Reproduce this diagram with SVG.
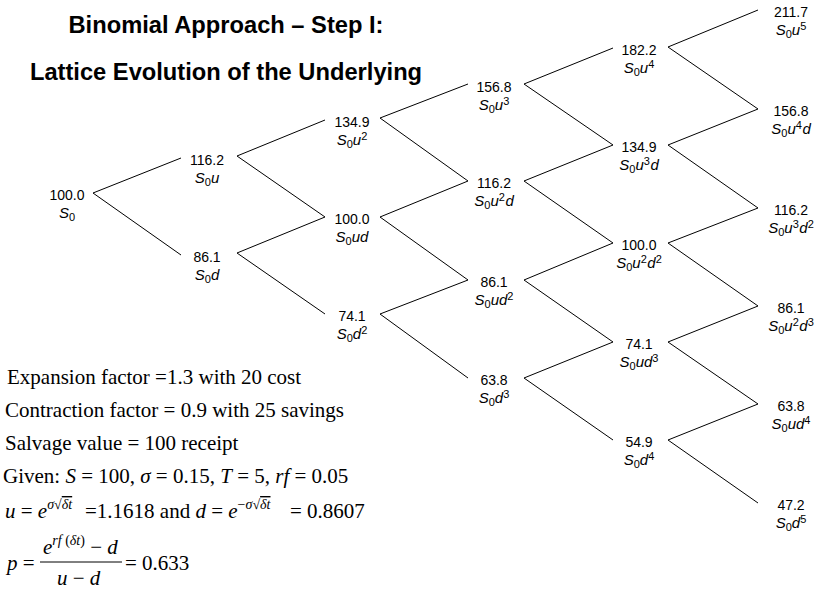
<svg xmlns="http://www.w3.org/2000/svg" width="817" height="589" viewBox="0 0 817 589">
<style>
.title{font-family:"Liberation Sans",Arial,sans-serif;font-weight:bold;font-size:23.7px;fill:#000;text-anchor:middle}
.num{font-family:"Liberation Sans",Arial,sans-serif;font-size:14px;fill:#000;text-anchor:middle}
.lab{font-family:"Liberation Sans",Arial,sans-serif;font-size:15px;fill:#000;text-anchor:middle}
.i{font-style:italic}
.s{font-size:11px}
.edges line{stroke:#000;stroke-width:1;fill:none}
.m{font-family:"Liberation Serif","Times New Roman",serif;font-size:21px;fill:#000}
.ms{font-size:14px}
.ov{text-decoration:overline}
.rule{stroke:#000;stroke-width:1}
</style>
<rect width="817" height="589" fill="#fff"/>
<text class="title" x="226" y="33">Binomial Approach – Step I:</text>
<text class="title" x="226" y="80">Lattice Evolution of the Underlying</text>

<g class="edges" id="connectors">
<line x1="93" y1="193" x2="181" y2="158"/>
<line x1="93" y1="193" x2="181" y2="255"/>
<line x1="237" y1="156" x2="325" y2="120"/>
<line x1="237" y1="156" x2="325" y2="217"/>
<line x1="237" y1="253" x2="325" y2="217"/>
<line x1="237" y1="253" x2="325" y2="314"/>
<line x1="380" y1="118" x2="468" y2="84"/>
<line x1="380" y1="118" x2="468" y2="181"/>
<line x1="380" y1="217" x2="468" y2="181"/>
<line x1="380" y1="217" x2="468" y2="280"/>
<line x1="380" y1="314" x2="468" y2="280"/>
<line x1="380" y1="314" x2="468" y2="378"/>
<line x1="524" y1="84" x2="613" y2="48"/>
<line x1="524" y1="84" x2="613" y2="145"/>
<line x1="524" y1="181" x2="613" y2="145"/>
<line x1="524" y1="181" x2="613" y2="243"/>
<line x1="524" y1="280" x2="613" y2="243"/>
<line x1="524" y1="280" x2="613" y2="342"/>
<line x1="524" y1="378" x2="613" y2="342"/>
<line x1="524" y1="378" x2="613" y2="440"/>
<line x1="668" y1="47" x2="758" y2="10"/>
<line x1="668" y1="47" x2="758" y2="109"/>
<line x1="668" y1="145" x2="758" y2="109"/>
<line x1="668" y1="145" x2="758" y2="208"/>
<line x1="668" y1="243" x2="758" y2="208"/>
<line x1="668" y1="243" x2="758" y2="306"/>
<line x1="668" y1="342" x2="758" y2="306"/>
<line x1="668" y1="342" x2="758" y2="404"/>
<line x1="668" y1="440" x2="758" y2="404"/>
<line x1="668" y1="440" x2="758" y2="503"/>
</g>

<g id="n0_0"><text class="num" x="67" y="200">100.0</text><text class="lab" x="67" y="218"><tspan class="i">S</tspan><tspan class="s" dy="3">0</tspan></text></g>

<g id="n1_0"><text class="num" x="207" y="165">116.2</text><text class="lab" x="207" y="183"><tspan class="i">S</tspan><tspan class="s" dy="3">0</tspan><tspan class="i" dy="-3">u</tspan></text></g>
<g id="n1_1"><text class="num" x="207" y="262">86.1</text><text class="lab" x="207" y="280"><tspan class="i">S</tspan><tspan class="s" dy="3">0</tspan><tspan class="i" dy="-3">d</tspan></text></g>

<g id="n2_0"><text class="num" x="352" y="127">134.9</text><text class="lab" x="352" y="145"><tspan class="i">S</tspan><tspan class="s" dy="3">0</tspan><tspan class="i" dy="-3">u</tspan><tspan class="s" dy="-5">2</tspan></text></g>
<g id="n2_1"><text class="num" x="352" y="224">100.0</text><text class="lab" x="352" y="242"><tspan class="i">S</tspan><tspan class="s" dy="3">0</tspan><tspan class="i" dy="-3">ud</tspan></text></g>
<g id="n2_2"><text class="num" x="352" y="321">74.1</text><text class="lab" x="352" y="339"><tspan class="i">S</tspan><tspan class="s" dy="3">0</tspan><tspan class="i" dy="-3">d</tspan><tspan class="s" dy="-5">2</tspan></text></g>

<g id="n3_0"><text class="num" x="494" y="92">156.8</text><text class="lab" x="494" y="110"><tspan class="i">S</tspan><tspan class="s" dy="3">0</tspan><tspan class="i" dy="-3">u</tspan><tspan class="s" dy="-5">3</tspan></text></g>
<g id="n3_1"><text class="num" x="494" y="188">116.2</text><text class="lab" x="494" y="206"><tspan class="i">S</tspan><tspan class="s" dy="3">0</tspan><tspan class="i" dy="-3">u</tspan><tspan class="s" dy="-5">2</tspan><tspan class="i" dy="5" dx="0.5">d</tspan></text></g>
<g id="n3_2"><text class="num" x="494" y="287">86.1</text><text class="lab" x="494" y="305"><tspan class="i">S</tspan><tspan class="s" dy="3">0</tspan><tspan class="i" dy="-3">ud</tspan><tspan class="s" dy="-5">2</tspan></text></g>
<g id="n3_3"><text class="num" x="494" y="385">63.8</text><text class="lab" x="494" y="403"><tspan class="i">S</tspan><tspan class="s" dy="3">0</tspan><tspan class="i" dy="-3">d</tspan><tspan class="s" dy="-5">3</tspan></text></g>

<g id="n4_0"><text class="num" x="639" y="55">182.2</text><text class="lab" x="639" y="73"><tspan class="i">S</tspan><tspan class="s" dy="3">0</tspan><tspan class="i" dy="-3">u</tspan><tspan class="s" dy="-5">4</tspan></text></g>
<g id="n4_1"><text class="num" x="639" y="152">134.9</text><text class="lab" x="639" y="170"><tspan class="i">S</tspan><tspan class="s" dy="3">0</tspan><tspan class="i" dy="-3">u</tspan><tspan class="s" dy="-5">3</tspan><tspan class="i" dy="5" dx="0.5">d</tspan></text></g>
<g id="n4_2"><text class="num" x="639" y="250">100.0</text><text class="lab" x="639" y="268"><tspan class="i">S</tspan><tspan class="s" dy="3">0</tspan><tspan class="i" dy="-3">u</tspan><tspan class="s" dy="-5">2</tspan><tspan class="i" dy="5" dx="0.5">d</tspan><tspan class="s" dy="-5">2</tspan></text></g>
<g id="n4_3"><text class="num" x="639" y="349">74.1</text><text class="lab" x="639" y="367"><tspan class="i">S</tspan><tspan class="s" dy="3">0</tspan><tspan class="i" dy="-3">ud</tspan><tspan class="s" dy="-5">3</tspan></text></g>
<g id="n4_4"><text class="num" x="639" y="447">54.9</text><text class="lab" x="639" y="465"><tspan class="i">S</tspan><tspan class="s" dy="3">0</tspan><tspan class="i" dy="-3">d</tspan><tspan class="s" dy="-5">4</tspan></text></g>

<g id="n5_0"><text class="num" x="791" y="17">211.7</text><text class="lab" x="791" y="35"><tspan class="i">S</tspan><tspan class="s" dy="3">0</tspan><tspan class="i" dy="-3">u</tspan><tspan class="s" dy="-5">5</tspan></text></g>
<g id="n5_1"><text class="num" x="791" y="116">156.8</text><text class="lab" x="791" y="134"><tspan class="i">S</tspan><tspan class="s" dy="3">0</tspan><tspan class="i" dy="-3">u</tspan><tspan class="s" dy="-5">4</tspan><tspan class="i" dy="5" dx="0.5">d</tspan></text></g>
<g id="n5_2"><text class="num" x="791" y="215">116.2</text><text class="lab" x="791" y="233"><tspan class="i">S</tspan><tspan class="s" dy="3">0</tspan><tspan class="i" dy="-3">u</tspan><tspan class="s" dy="-5">3</tspan><tspan class="i" dy="5" dx="0.5">d</tspan><tspan class="s" dy="-5">2</tspan></text></g>
<g id="n5_3"><text class="num" x="791" y="313">86.1</text><text class="lab" x="791" y="331"><tspan class="i">S</tspan><tspan class="s" dy="3">0</tspan><tspan class="i" dy="-3">u</tspan><tspan class="s" dy="-5">2</tspan><tspan class="i" dy="5" dx="0.5">d</tspan><tspan class="s" dy="-5">3</tspan></text></g>
<g id="n5_4"><text class="num" x="791" y="411">63.8</text><text class="lab" x="791" y="429"><tspan class="i">S</tspan><tspan class="s" dy="3">0</tspan><tspan class="i" dy="-3">ud</tspan><tspan class="s" dy="-5">4</tspan></text></g>
<g id="n5_5"><text class="num" x="791" y="510">47.2</text><text class="lab" x="791" y="528"><tspan class="i">S</tspan><tspan class="s" dy="3">0</tspan><tspan class="i" dy="-3">d</tspan><tspan class="s" dy="-5">5</tspan></text></g>

<g id="notes">
<text class="m" x="7" y="384">Expansion factor =1.3 with 20 cost</text>
<text class="m" x="5" y="417">Contraction factor = 0.9 with 25 savings</text>
<text class="m" x="5" y="450">Salvage value = 100 receipt</text>
<text class="m" x="3" y="483">Given: <tspan class="i">S</tspan> = 100, <tspan class="i">σ</tspan> = 0.15, <tspan class="i">T</tspan> = 5, <tspan class="i">rf</tspan> = 0.05</text>
<text class="m" x="5" y="518"><tspan class="i">u</tspan> = <tspan class="i">e</tspan><tspan class="ms i" dy="-9">σ</tspan><tspan class="ms">√</tspan><tspan class="ms i ov">δt</tspan><tspan x="85" dy="9">=1.1618 and </tspan><tspan class="i">d</tspan> = <tspan class="i">e</tspan><tspan class="ms" dy="-9">−</tspan><tspan class="ms i">σ</tspan><tspan class="ms">√</tspan><tspan class="ms i ov">δt</tspan><tspan x="290" dy="9">= 0.8607</tspan></text>
<text class="m" x="7" y="570"><tspan class="i">p</tspan> =</text>
<line class="rule" x1="40" y1="562" x2="122" y2="562"/>
<text class="m" x="43" y="554"><tspan class="i">e</tspan><tspan class="ms i" dy="-9">rf</tspan><tspan class="ms"> (</tspan><tspan class="ms i">δt</tspan><tspan class="ms">)</tspan><tspan dy="9"> − </tspan><tspan class="i">d</tspan></text>
<text class="m" x="57" y="585"><tspan class="i">u</tspan> − <tspan class="i">d</tspan></text>
<text class="m" x="125" y="570">= 0.633</text>
</g>
</svg>
